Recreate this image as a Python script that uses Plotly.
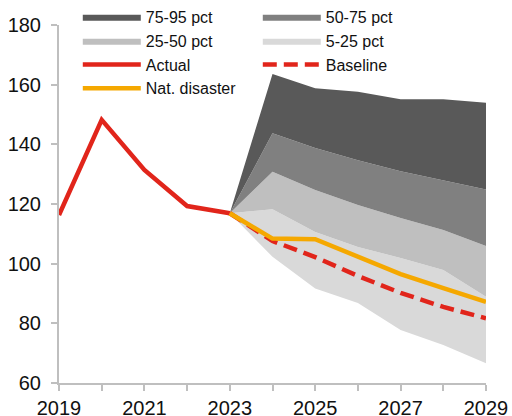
import plotly.graph_objects as go

# Historical values
years_actual = [2019, 2020, 2021, 2022, 2023]
actual = [116.3, 148.2, 131.4, 119.3, 116.9]

# Projection horizon (starts from the last actual value)
years_proj = [2023, 2024, 2025, 2026, 2027, 2028, 2029]
pct5 = [116.9, 102.3, 91.7, 86.8, 77.8, 72.7, 66.6]
pct25 = [116.9, 118.2, 110.6, 105.6, 101.9, 97.9, 88.9]
pct50 = [116.9, 130.8, 124.7, 119.7, 115.3, 111.3, 105.9]
pct75 = [116.9, 143.7, 138.8, 134.7, 131.0, 128.0, 124.9]
pct95 = [116.9, 163.6, 158.8, 157.6, 155.1, 155.1, 153.9]
baseline = [116.9, 107.6, 102.2, 95.9, 90.2, 85.5, 81.7]
nat_disaster = [116.9, 108.4, 108.2, 102.2, 96.5, 91.8, 87.2]

tick_years = list(range(2019, 2030))
tick_text = [str(y) if (y - 2019) % 2 == 0 else "" for y in tick_years]

RED = "#e1251b"
ORANGE = "#f5a800"
FONT = "Liberation Sans, Arial, sans-serif"

fig = go.Figure()

# Fan chart: stacked percentile bands
fig.add_trace(go.Scatter(x=years_proj, y=pct5, mode="lines", line=dict(width=0, color="#d9d9d9"),
                         showlegend=False, hoverinfo="skip"))
bands = [
    ("5-25 pct", pct25, "#d9d9d9", 4),
    ("25-50 pct", pct50, "#bfbfbf", 3),
    ("50-75 pct", pct75, "#808080", 2),
    ("75-95 pct", pct95, "#595959", 1),
]
for name, vals, col, rank in bands:
    fig.add_trace(go.Scatter(x=years_proj, y=vals, mode="lines", name=name,
                             line=dict(width=0, color=col), fill="tonexty", fillcolor=col,
                             legendrank=rank))

fig.add_trace(go.Scatter(x=years_actual, y=actual, mode="lines", name="Actual",
                         line=dict(color=RED, width=4.5), legendrank=5))
fig.add_trace(go.Scatter(x=years_proj, y=baseline, mode="lines", name="Baseline",
                         line=dict(color=RED, width=4.5, dash="14px,7px"), legendrank=6))
fig.add_trace(go.Scatter(x=years_proj, y=nat_disaster, mode="lines", name="Nat. disaster",
                         line=dict(color=ORANGE, width=4.5), legendrank=7))

axis_common = dict(showgrid=False, zeroline=False, showline=True, linecolor="#bfbfbf",
                   linewidth=2, ticks="outside", tickcolor="#bfbfbf", ticklen=6, tickwidth=1.5,
                   tickfont=dict(family=FONT, size=20, color="#111"))

fig.update_xaxes(range=[2019, 2029], tickvals=tick_years, ticktext=tick_text,
                 ticklabelstandoff=0, **axis_common)
fig.update_yaxes(range=[60, 180], tickvals=[60, 80, 100, 120, 140, 160, 180],
                 ticklabelstandoff=6, **axis_common)

fig.update_layout(
    width=512, height=416,
    margin=dict(l=59, r=26, t=25, b=33, autoexpand=False),
    plot_bgcolor="white", paper_bgcolor="white",
    font=dict(family=FONT, size=16, color="#111"),
    legend=dict(orientation="h", x=0.044, xanchor="left", y=1.07, yanchor="top",
                traceorder="normal", entrywidth=107, entrywidthmode="pixels", itemwidth=58,
                bgcolor="rgba(0,0,0,0)", font=dict(size=16), tracegroupgap=0),
    showlegend=True,
)

fig.write_html("out.html")
